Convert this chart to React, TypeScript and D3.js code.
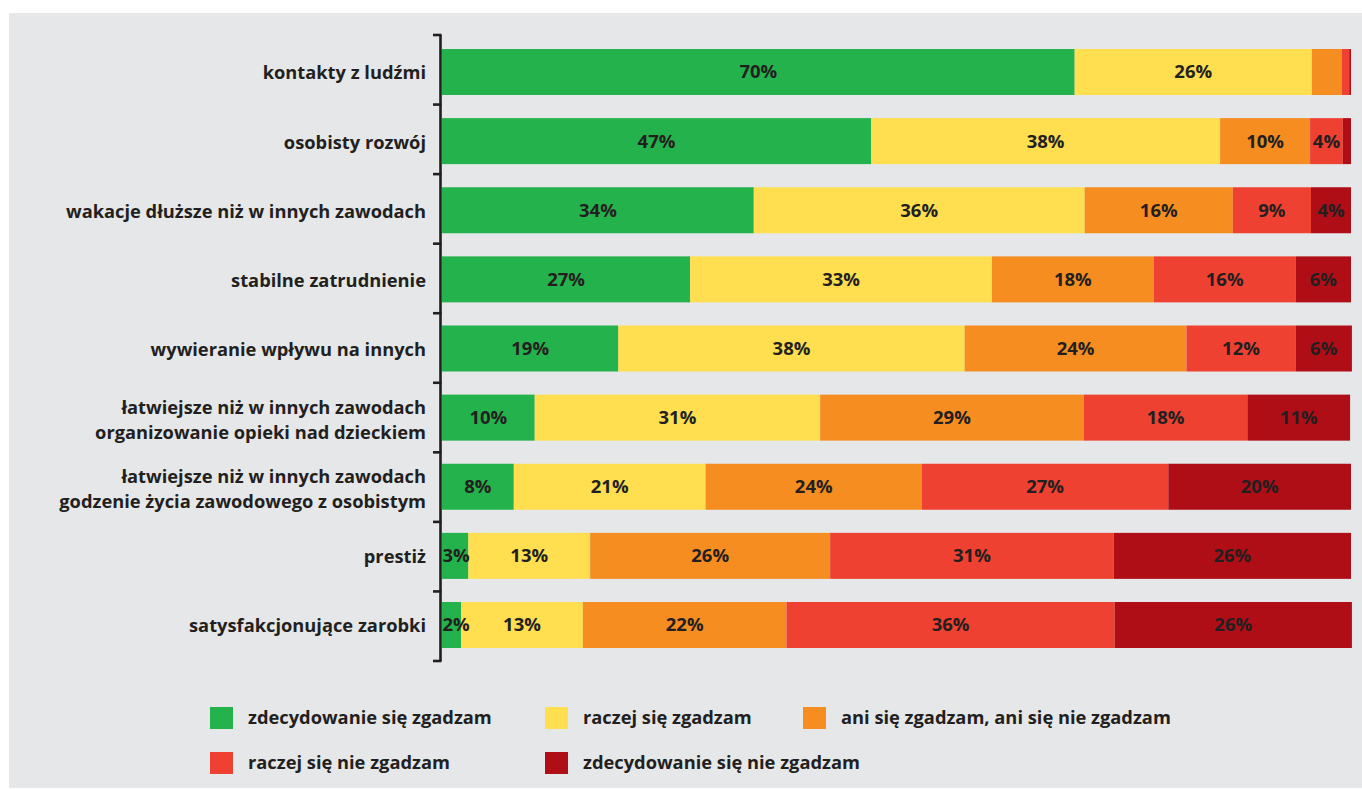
import React from "react";
import * as d3 from "d3";

const categories = [
  ["kontakty z ludźmi"],
  ["osobisty rozwój"],
  ["wakacje dłuższe niż w innych zawodach"],
  ["stabilne zatrudnienie"],
  ["wywieranie wpływu na innych"],
  ["łatwiejsze niż w innych zawodach", "organizowanie opieki nad dzieckiem"],
  ["łatwiejsze niż w innych zawodach", "godzenie życia zawodowego z osobistym"],
  ["prestiż"],
  ["satysfakcjonujące zarobki"],
];

const seriesNames = [
  "zdecydowanie się zgadzam",
  "raczej się zgadzam",
  "ani się zgadzam, ani się nie zgadzam",
  "raczej się nie zgadzam",
  "zdecydowanie się nie zgadzam",
];
const seriesColors = ["#23b24b", "#ffde4f", "#f68d21", "#ef4131", "#b00e17"];

const strongAgree = [69.6, 47.2, 34.3, 27.3, 19.4, 10.2, 7.9, 2.9, 2.1];
const agree = [26.1, 38.4, 36.4, 33.2, 38.1, 31.4, 21.1, 13.4, 13.4];
const neutral = [3.3, 9.9, 16.3, 17.8, 24.4, 29.0, 23.8, 26.4, 22.4];
const disagree = [0.8, 3.6, 8.6, 15.6, 12.0, 18.0, 27.1, 31.2, 36.1];
const strongDisagree = [0.2, 0.9, 4.4, 6.1, 6.2, 11.3, 20.1, 26.1, 26.1];

// [row, series] segments whose value label is not printed
const hiddenLabels = [
  [0, 2],
  [0, 3],
  [0, 4],
  [1, 4],
];

const legendRows = [
  [0, 1, 2],
  [3, 4],
];

const FONT = "'Open Sans', 'Noto Sans', sans-serif";
const TEXT = "#231f20";

export default function App() {
  const W = 1362;
  const H = 789;
  const series = [strongAgree, agree, neutral, disagree, strongDisagree];
  const keys = categories.map((c) => c.join(" "));

  const x = d3.scaleLinear().domain([0, 100]).range([442, 1351]);
  const yAxis = d3.scaleBand<string>().domain(keys).range([35, 661]).paddingInner(0).paddingOuter(0);
  const yBar = d3.scaleBand<string>().domain(keys).range([49, 648]).paddingInner(0.3345).paddingOuter(0);

  const rows = keys.map((k, i) => {
    let acc = 0;
    return series.map((s, j) => {
      const v = s[i];
      const seg = { x0: acc, x1: acc + v, v, j };
      acc += v;
      return seg;
    });
  });

  const isHidden = (i: number, j: number) => hiddenLabels.some(([r, s]) => r === i && s === j);
  const tickYs = [...keys.map((k) => yAxis(k) as number), 661];

  const legendX = [210, 545, 803];
  const legendY = [707, 752];

  return (
    <svg
      width={W}
      height={H}
      style={{ position: "absolute", left: 0, top: 0, display: "block", background: "#ffffff" }}
    >
      <rect x={9} y={13} width={W - 9} height={775} fill="#e6e7e8" />

      {rows.map((segs, i) => {
        const by = yBar(keys[i]) as number;
        const bh = yBar.bandwidth();
        return (
          <g key={keys[i]}>
            {segs.map((s) => (
              <rect
                key={s.j}
                x={x(s.x0)}
                y={by}
                width={Math.max(0, x(s.x1) - x(s.x0))}
                height={bh}
                fill={seriesColors[s.j]}
              />
            ))}
            {segs.map((s) =>
              isHidden(i, s.j) ? null : (
                <text
                  key={"t" + s.j}
                  x={Math.max((x(s.x0) + x(s.x1)) / 2, x(0) + 14)}
                  y={by + bh / 2}
                  dy="0.35em"
                  textAnchor="middle"
                  fontFamily={FONT}
                  fontWeight={700}
                  fontSize={18.5}
                  fill={TEXT}
                >
                  {Math.round(s.v)}%
                </text>
              )
            )}
          </g>
        );
      })}

      {/* axis */}
      <line x1={440.5} x2={440.5} y1={35} y2={661} stroke={TEXT} strokeWidth={2.6} />
      {tickYs.map((ty, i) => (
        <line key={i} x1={433} x2={441.5} y1={ty} y2={ty} stroke={TEXT} strokeWidth={2.6} />
      ))}

      {/* category labels */}
      {categories.map((lines, i) => {
        const cy = (yBar(keys[i]) as number) + yBar.bandwidth() / 2;
        if (lines.length === 1) {
          return (
            <text
              key={keys[i]}
              x={426}
              y={cy + 1}
              dy="0.35em"
              textAnchor="end"
              fontFamily={FONT}
              fontWeight={700}
              fontSize={18.3}
              fill={TEXT}
            >
              {lines[0]}
            </text>
          );
        }
        return (
          <text
            key={keys[i]}
            textAnchor="end"
            fontFamily={FONT}
            fontWeight={700}
            fontSize={18.3}
            fill={TEXT}
          >
            {lines.map((ln, li) => (
              <tspan key={li} x={426} y={cy - 10 + li * 25} dy="0.35em">
                {ln}
              </tspan>
            ))}
          </text>
        );
      })}

      {/* legend */}
      {legendRows.map((row, ri) =>
        row.map((si, ci) => (
          <g key={si}>
            <rect x={legendX[ci]} y={legendY[ri]} width={23} height={22} fill={seriesColors[si]} />
            <text
              x={legendX[ci] + 38}
              y={legendY[ri] + 11}
              dy="0.35em"
              fontFamily={FONT}
              fontWeight={700}
              fontSize={18.3}
              fill={TEXT}
            >
              {seriesNames[si]}
            </text>
          </g>
        ))
      )}
    </svg>
  );
}
